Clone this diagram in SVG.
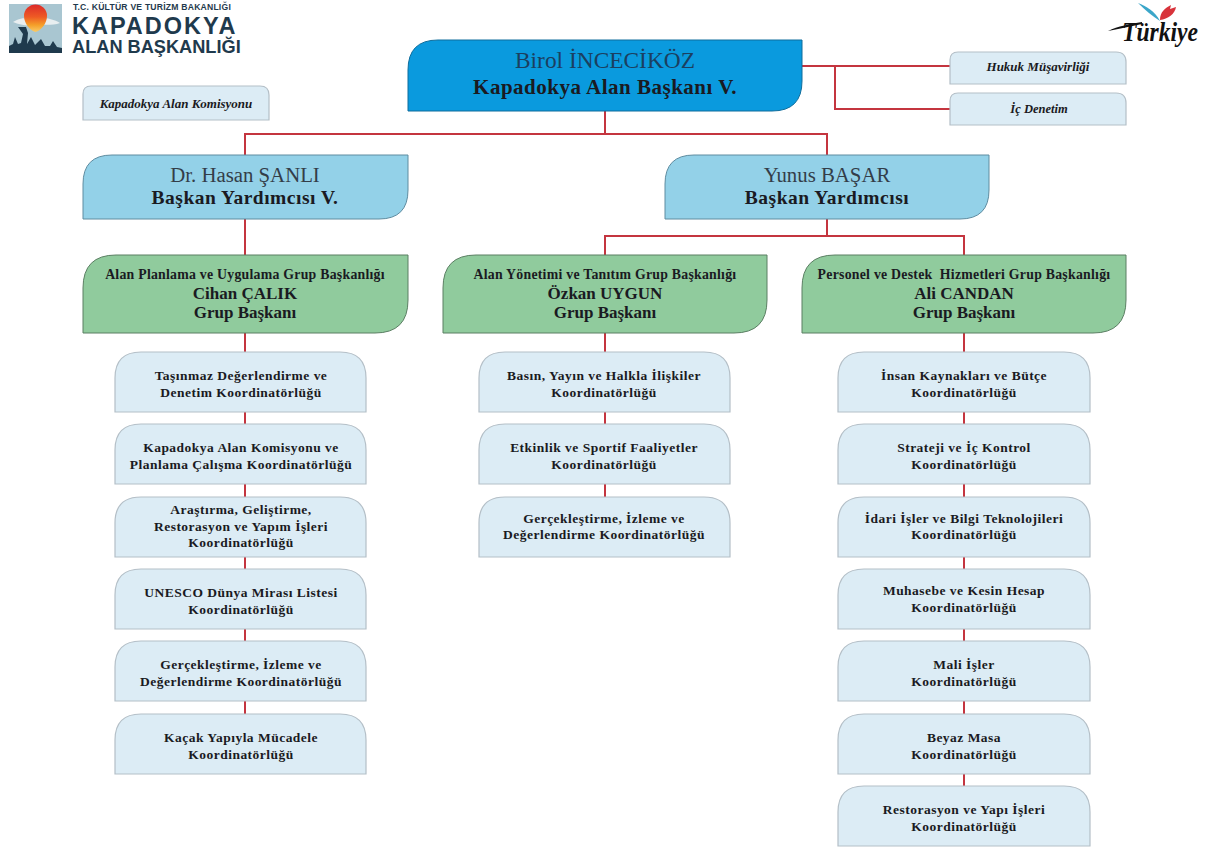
<svg xmlns="http://www.w3.org/2000/svg" width="1208" height="848" viewBox="0 0 1208 848">
<defs>
<linearGradient id="sun" x1="0" y1="0" x2="0" y2="1"><stop offset="0" stop-color="#dc2a2a"/><stop offset=".45" stop-color="#ee5a24"/><stop offset=".75" stop-color="#f5a029"/><stop offset="1" stop-color="#f9cc6a"/></linearGradient>
</defs>
<style>
text{font-family:"Liberation Serif","Times New Roman",serif;text-anchor:middle;fill:#1a1a22}
.t{font-size:13.5px;font-weight:bold;letter-spacing:.48px}
.n{font-size:23.4px;fill:#1b3f60}
.r{font-size:21px;font-weight:bold;letter-spacing:.5px}
.r2{font-size:19.5px;font-weight:bold;letter-spacing:.5px}
.v{font-size:20.8px;fill:#333d48}
.g{font-size:13.8px;font-weight:bold;letter-spacing:.25px}
.h{font-size:17px;font-weight:bold}
.i{font-size:12.5px;font-weight:bold;font-style:italic}
.lt{fill:#dcecf5;stroke:#b4bfc7;stroke-width:1.2}
.blue{fill:#0a9ade;stroke:#0f6d9c;stroke-width:1}
.sky{fill:#93d1e8;stroke:#5f8ca0;stroke-width:1}
.green{fill:#90cb9d;stroke:#5b7f63;stroke-width:1}
.c{fill:none;stroke:#c4353f;stroke-width:2}
.s{font-family:"Liberation Sans",Arial,sans-serif;font-weight:bold;text-anchor:start;fill:#1f3a4d}
</style>
<rect width="1208" height="848" fill="#fff"/>
<g id="connectors">
<path class="c" d="M802 66H950M835 66V109H950M605 111V134M245 155V134H827V155M245 219V255M827 219V236M605 255V236H964V255"/>
<path class="c" d="M245 333V352M245 412V424M245 484V497M245 557V569M245 629V641M245 701V714M605 333V352M605 412V424M605 484V497M964 333V352M964 412V424M964 484V497M964 557V569M964 629V641M964 701V714M964 774V786"/>
</g>
<g id="logo-kapadokya">
<rect x="9" y="4" width="53" height="49" fill="#a9c6d1"/>
<path d="M13 22C20 17 28 18 35 18C44 17 54 19 60 23C52 26 42 24 35 25C27 26 20 25 13 22Z" fill="#e8eef0"/>
<path d="M24 16A11.5 11.5 0 0 1 47 16C47 23 41 31 35.500 32C30 31 24 23 24 16Z" fill="url(#sun)"/>
<path d="M9 53V46L13 44L15 37L18 44L21 43L23 34L18 27H26L28 33L27 44L31 37L35 45L41 39L45 46L50 46L53 41L57 47L62 48V53Z" fill="#1f3a4d"/>
<text class="s" x="73" y="9.500" style="font-size:8.6px;letter-spacing:.22px">T.C. KÜLTÜR VE TURİZM BAKANLIĞI</text>
<text class="s" x="72" y="33.500" style="font-size:23.5px;letter-spacing:2px">KAPADOKYA</text>
<text class="s" x="72" y="53" style="font-size:18.2px">ALAN BAŞKANLIĞI</text>
</g>
<g id="logo-turkiye">
<path d="M1138 3C1146 6 1155 11 1160 21C1152 16 1145 10 1138 3Z" fill="#3aa6c9"/>
<path d="M1160 20C1160 12 1165 8 1171 5L1170 9L1176 7C1175 14 1168 19 1160 20Z" fill="#d8333b"/>
<path d="M1108 31C1118 26 1130 24 1142 22L1142 24C1131 26 1120 29 1108 31Z" fill="#111"/>
<text x="1160" y="41" style="font-style:italic;font-size:27px;fill:#111;font-weight:bold" textLength="76" lengthAdjust="spacingAndGlyphs">Türkiye</text>
</g>
<g id="n-komisyon"><path class="lt" d="M91 86H260Q269 86 269 95V120H83V94Q83 86 91 86Z"/><text class="i" x="176" y="108" style="font-size:13px">Kapadokya Alan Komisyonu</text></g>
<g id="n-hukuk"><path class="lt" d="M958 52H1116Q1126 52 1126 62V84H950V60Q950 52 958 52Z"/><text class="i" x="1038" y="71" style="font-size:13px">Hukuk Müşavirliği</text></g>
<g id="n-ic"><path class="lt" d="M958 93H1116Q1126 93 1126 103V125H950V101Q950 93 958 93Z"/><text class="i" x="1039" y="113">İç Denetim</text></g>
<g id="n-baskan"><path class="blue" d="M438 40H802V81Q802 111 772 111H408V70Q408 40 438 40Z"/><text class="n" x="605" y="68">Birol İNCECİKÖZ</text><text class="r" x="605" y="94">Kapadokya Alan Başkanı V.</text></g>
<g id="n-yrd1"><path class="sky" d="M112 155H408V190Q408 219 379 219H83V184Q83 155 112 155Z"/><text class="v" x="245" y="182">Dr. Hasan ŞANLI</text><text class="r2" x="245" y="204">Başkan Yardımcısı V.</text></g>
<g id="n-yrd2"><path class="sky" d="M694 155H989V190Q989 219 960 219H665V184Q665 155 694 155Z"/><text class="v" x="827" y="182">Yunus BAŞAR</text><text class="r2" x="827" y="204">Başkan Yardımcısı</text></g>
<g id="n-grup1"><path class="green" d="M116 255H408V300Q408 333 375 333H83V288Q83 255 116 255Z"/><text class="g" x="245" y="279">Alan Planlama ve Uygulama Grup Başkanlığı</text><text class="h" x="245" y="299">Cihan ÇALIK</text><text class="h" x="245" y="318">Grup Başkanı</text></g>
<g id="n-grup2"><path class="green" d="M476 255H767V300Q767 333 734 333H443V288Q443 255 476 255Z"/><text class="g" x="605" y="279">Alan Yönetimi ve Tanıtım Grup Başkanlığı</text><text class="h" x="605" y="299">Özkan UYGUN</text><text class="h" x="605" y="318">Grup Başkanı</text></g>
<g id="n-grup3"><path class="green" d="M835 255H1126V300Q1126 333 1093 333H802V288Q802 255 835 255Z"/><text class="g" x="964" y="279">Personel ve Destek&#160; Hizmetleri Grup Başkanlığı</text><text class="h" x="964" y="299">Ali CANDAN</text><text class="h" x="964" y="318">Grup Başkanı</text></g>
<g id="n-a1"><path class="lt" d="M141 352H340Q366 352 366 378V412H115V378Q115 352 141 352Z"/><text class="t" x="241" y="380">Taşınmaz Değerlendirme ve</text><text class="t" x="241" y="397">Denetim Koordinatörlüğü</text></g>
<g id="n-a2"><path class="lt" d="M141 424H340Q366 424 366 450V484H115V450Q115 424 141 424Z"/><text class="t" x="241" y="452">Kapadokya Alan Komisyonu ve</text><text class="t" x="241" y="469">Planlama Çalışma Koordinatörlüğü</text></g>
<g id="n-a3"><path class="lt" d="M141 497H340Q366 497 366 523V557H115V523Q115 497 141 497Z"/><text class="t" x="241" y="514">Araştırma, Geliştirme,</text><text class="t" x="241" y="531">Restorasyon ve Yapım İşleri</text><text class="t" x="241" y="547">Koordinatörlüğü</text></g>
<g id="n-a4"><path class="lt" d="M141 569H340Q366 569 366 595V629H115V595Q115 569 141 569Z"/><text class="t" x="241" y="597">UNESCO Dünya Mirası Listesi</text><text class="t" x="241" y="614">Koordinatörlüğü</text></g>
<g id="n-a5"><path class="lt" d="M141 641H340Q366 641 366 667V701H115V667Q115 641 141 641Z"/><text class="t" x="241" y="669">Gerçekleştirme, İzleme ve</text><text class="t" x="241" y="686">Değerlendirme Koordinatörlüğü</text></g>
<g id="n-a6"><path class="lt" d="M141 714H340Q366 714 366 740V774H115V740Q115 714 141 714Z"/><text class="t" x="241" y="742">Kaçak Yapıyla Mücadele</text><text class="t" x="241" y="759">Koordinatörlüğü</text></g>
<g id="n-b1"><path class="lt" d="M505 352H704Q730 352 730 378V412H479V378Q479 352 505 352Z"/><text class="t" x="604" y="380">Basın, Yayın ve Halkla İlişkiler</text><text class="t" x="604" y="397">Koordinatörlüğü</text></g>
<g id="n-b2"><path class="lt" d="M505 424H704Q730 424 730 450V484H479V450Q479 424 505 424Z"/><text class="t" x="604" y="452">Etkinlik ve Sportif Faaliyetler</text><text class="t" x="604" y="469">Koordinatörlüğü</text></g>
<g id="n-b3"><path class="lt" d="M505 497H704Q730 497 730 523V557H479V523Q479 497 505 497Z"/><text class="t" x="604" y="523">Gerçekleştirme, İzleme ve</text><text class="t" x="604" y="539">Değerlendirme Koordinatörlüğü</text></g>
<g id="n-c1"><path class="lt" d="M864 352H1064Q1090 352 1090 378V412H838V378Q838 352 864 352Z"/><text class="t" x="964" y="380">İnsan Kaynakları ve Bütçe</text><text class="t" x="964" y="397">Koordinatörlüğü</text></g>
<g id="n-c2"><path class="lt" d="M864 424H1064Q1090 424 1090 450V484H838V450Q838 424 864 424Z"/><text class="t" x="964" y="452">Strateji ve İç Kontrol</text><text class="t" x="964" y="469">Koordinatörlüğü</text></g>
<g id="n-c3"><path class="lt" d="M864 497H1064Q1090 497 1090 523V557H838V523Q838 497 864 497Z"/><text class="t" x="964" y="523">İdari İşler ve Bilgi Teknolojileri</text><text class="t" x="964" y="539">Koordinatörlüğü</text></g>
<g id="n-c4"><path class="lt" d="M864 569H1064Q1090 569 1090 595V629H838V595Q838 569 864 569Z"/><text class="t" x="964" y="595">Muhasebe ve Kesin Hesap</text><text class="t" x="964" y="612">Koordinatörlüğü</text></g>
<g id="n-c5"><path class="lt" d="M864 641H1064Q1090 641 1090 667V701H838V667Q838 641 864 641Z"/><text class="t" x="964" y="669">Mali İşler</text><text class="t" x="964" y="686">Koordinatörlüğü</text></g>
<g id="n-c6"><path class="lt" d="M864 714H1064Q1090 714 1090 740V774H838V740Q838 714 864 714Z"/><text class="t" x="964" y="742">Beyaz Masa</text><text class="t" x="964" y="759">Koordinatörlüğü</text></g>
<g id="n-c7"><path class="lt" d="M864 786H1064Q1090 786 1090 812V846H838V812Q838 786 864 786Z"/><text class="t" x="964" y="814">Restorasyon ve Yapı İşleri</text><text class="t" x="964" y="831">Koordinatörlüğü</text></g>
</svg>
